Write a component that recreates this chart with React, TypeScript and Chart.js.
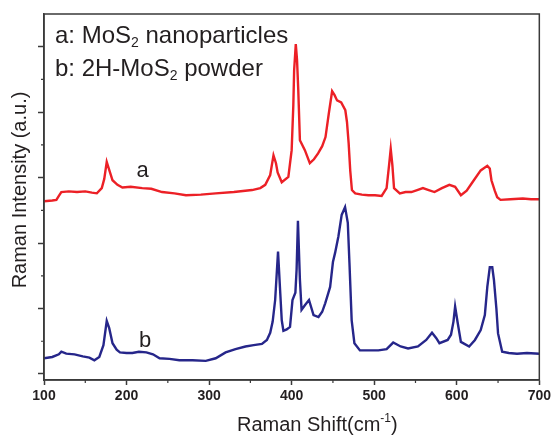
import React, { useEffect, useRef } from "react";
import { Chart, registerables } from "chart.js";

Chart.register(...registerables);

// Spectrum a: MoS2 nanoparticles (Raman shift, cm^-1)
const waveA = [100, 110, 115, 118, 121, 130, 140, 150, 158, 164, 170, 173, 176, 179, 183, 189, 195, 205, 219, 230, 243, 258, 272, 290, 308, 330, 352, 362, 368, 374, 378, 381, 383, 388, 396, 400, 402, 403, 405, 406.5, 408, 410, 416, 422, 427, 432, 437, 441, 445, 449, 452, 455, 460, 465, 467, 469, 471, 473, 477, 485, 493, 501, 509, 515, 518, 520, 522, 524, 531, 538, 545, 552, 559, 566, 573, 582, 591, 598, 605, 612, 619, 629, 637, 640, 642, 646, 649, 653, 665, 680, 690, 700];
const intensityA = [2.64, 2.65, 2.66, 2.72, 2.78, 2.79, 2.78, 2.79, 2.77, 2.76, 2.84, 2.98, 3.24, 3.12, 2.96, 2.89, 2.85, 2.86, 2.84, 2.83, 2.78, 2.76, 2.73, 2.74, 2.76, 2.78, 2.81, 2.84, 2.89, 3.04, 3.34, 3.22, 3.08, 2.93, 3.01, 3.42, 4.10, 4.64, 5.04, 4.80, 4.34, 3.57, 3.42, 3.22, 3.28, 3.37, 3.48, 3.62, 3.98, 4.32, 4.26, 4.18, 4.15, 4.03, 3.85, 3.53, 3.10, 2.81, 2.76, 2.74, 2.73, 2.73, 2.72, 2.84, 3.19, 3.44, 3.19, 2.84, 2.76, 2.78, 2.78, 2.81, 2.84, 2.81, 2.78, 2.84, 2.89, 2.86, 2.73, 2.80, 2.93, 3.11, 3.18, 3.14, 2.96, 2.80, 2.70, 2.66, 2.67, 2.68, 2.67, 2.67];

// Spectrum b: 2H-MoS2 powder
const waveB = [100, 110, 118, 121, 127, 137, 147, 155, 161, 167, 172, 176, 179, 183, 188, 192, 200, 207, 215, 224, 232, 240, 252, 264, 280, 296, 308, 320, 332, 344, 354, 364, 370, 374, 377, 380, 383.5, 386, 388, 390, 394, 398, 401, 404.5, 406, 407.6, 410, 412, 416, 421, 426.5, 432.5, 437, 440.6, 444, 446.6, 450, 452.6, 456.6, 460.6, 464.7, 468, 470, 472.7, 476, 482.7, 495, 505, 515, 523, 532, 541, 553, 563, 570, 575, 579, 589, 593, 596, 598, 601, 605, 615, 622, 629, 634, 637, 640, 643, 645, 648, 650, 655, 663, 673, 685, 700];
const intensityB = [0.24, 0.26, 0.30, 0.34, 0.31, 0.30, 0.27, 0.25, 0.21, 0.26, 0.44, 0.81, 0.70, 0.47, 0.37, 0.33, 0.32, 0.32, 0.34, 0.33, 0.30, 0.24, 0.23, 0.21, 0.21, 0.20, 0.24, 0.33, 0.38, 0.42, 0.44, 0.46, 0.52, 0.63, 0.80, 1.13, 1.87, 1.28, 0.82, 0.66, 0.68, 0.72, 1.13, 1.24, 1.60, 2.34, 1.44, 0.98, 1.05, 1.13, 0.90, 0.87, 0.95, 1.08, 1.22, 1.33, 1.71, 1.85, 2.10, 2.43, 2.55, 2.31, 1.70, 0.82, 0.47, 0.36, 0.36, 0.36, 0.38, 0.48, 0.42, 0.39, 0.42, 0.52, 0.63, 0.55, 0.47, 0.52, 0.60, 0.80, 1.03, 0.79, 0.49, 0.42, 0.52, 0.67, 0.90, 1.33, 1.63, 1.63, 1.44, 1.00, 0.62, 0.34, 0.32, 0.31, 0.32, 0.31];

const xTicks = [100, 200, 300, 400, 500, 600, 700];
const xMinorTicks = [150, 250, 350, 450, 550, 650];
const yTicks = [0, 1, 2, 3, 4, 5];
const yMinorTicks = [0.5, 1.5, 2.5, 3.5, 4.5];

const FONT = '"Liberation Sans", Arial, Helvetica, sans-serif';
const TEXT = "#231f20";
const AXIS = "#3a3a3a";

type Part = { t: string; size: number; dy: number };

function drawRich(ctx: CanvasRenderingContext2D, parts: Part[], x: number, y: number) {
  let cx = x;
  for (const p of parts) {
    ctx.font = `${p.size}px ${FONT}`;
    ctx.fillText(p.t, cx, y + p.dy);
    cx += ctx.measureText(p.t).width;
  }
}

const decorPlugin = {
  id: "decor",
  afterDraw(chart: any) {
    const { ctx, chartArea, scales } = chart;
    const xs = scales.x;
    const ys = scales.y;
    ctx.save();
    // frame
    ctx.strokeStyle = AXIS;
    ctx.lineWidth = 1.5;
    ctx.strokeRect(chartArea.left, chartArea.top, chartArea.right - chartArea.left, chartArea.bottom - chartArea.top);
    // minor ticks
    ctx.lineWidth = 1.2;
    ctx.beginPath();
    for (const v of xMinorTicks) {
      const px = xs.getPixelForValue(v);
      ctx.moveTo(px, chartArea.bottom);
      ctx.lineTo(px, chartArea.bottom + 3);
    }
    for (const v of yMinorTicks) {
      const py = ys.getPixelForValue(v);
      ctx.moveTo(chartArea.left, py);
      ctx.lineTo(chartArea.left - 3, py);
    }
    ctx.stroke();

    ctx.fillStyle = TEXT;
    ctx.textBaseline = "alphabetic";
    ctx.textAlign = "left";
    // legend text
    drawRich(ctx, [
      { t: "a: MoS", size: 24, dy: 0 },
      { t: "2", size: 14, dy: 4 },
      { t: " nanoparticles", size: 24, dy: 0 },
    ], 55, 43);
    drawRich(ctx, [
      { t: "b: 2H-MoS", size: 24, dy: 0 },
      { t: "2", size: 14, dy: 4 },
      { t: " powder", size: 24, dy: 0 },
    ], 55, 76);
    // curve labels
    ctx.font = `22px ${FONT}`;
    ctx.fillText("a", xs.getPixelForValue(212), 177);
    ctx.fillText("b", xs.getPixelForValue(215), 347);

    // x title
    drawRich(ctx, [
      { t: "Raman Shift(cm", size: 20, dy: 0 },
      { t: "-1", size: 12, dy: -9 },
      { t: ")", size: 20, dy: 0 },
    ], 237, 431);

    // y title
    ctx.save();
    ctx.translate(20, 190);
    ctx.rotate(-Math.PI / 2);
    ctx.textAlign = "center";
    ctx.textBaseline = "middle";
    ctx.font = `20px ${FONT}`;
    ctx.fillText("Raman Intensity (a.u.)", 0, 0);
    ctx.restore();

    ctx.restore();
  },
};

export default function App() {
  const ref = useRef<HTMLCanvasElement | null>(null);

  useEffect(() => {
    if (!ref.current) return;
    const chart = new Chart(ref.current, {
      type: "line",
      data: {
        datasets: [
          {
            label: "a",
            data: waveA.map((x, i) => ({ x, y: intensityA[i] })),
            borderColor: "rgb(236,32,38)",
            borderWidth: 2.4,
            pointRadius: 0,
            tension: 0,
            fill: false,
          },
          {
            label: "b",
            data: waveB.map((x, i) => ({ x, y: intensityB[i] })),
            borderColor: "rgb(38,38,138)",
            borderWidth: 2.4,
            pointRadius: 0,
            tension: 0,
            fill: false,
          },
        ],
      },
      options: {
        responsive: false,
        animation: false,
        devicePixelRatio: 1,
        layout: { padding: { left: 0, top: 14, right: 12, bottom: 0 } },
        plugins: {
          legend: { display: false },
          tooltip: { enabled: false },
        },
        scales: {
          x: {
            type: "linear",
            min: 100,
            max: 700,
            afterBuildTicks: (s: any) => {
              s.ticks = xTicks.map((v) => ({ value: v }));
            },
            afterFit: (s: any) => {
              s.height = 55;
            },
            grid: {
              drawOnChartArea: false,
              drawTicks: true,
              tickLength: 5,
              tickWidth: 1.5,
              tickColor: AXIS,
            },
            border: { display: true, color: AXIS, width: 1.5 },
            ticks: {
              padding: 3,
              color: TEXT,
              maxRotation: 0,
              font: { family: FONT, size: 14, weight: "bold" },
            },
          },
          y: {
            type: "linear",
            min: -0.092,
            max: 5.5,
            afterBuildTicks: (s: any) => {
              s.ticks = yTicks.map((v) => ({ value: v }));
            },
            afterFit: (s: any) => {
              s.width = 44;
            },
            grid: {
              drawOnChartArea: false,
              drawTicks: true,
              tickLength: 6,
              tickWidth: 1.5,
              tickColor: AXIS,
            },
            border: { display: true, color: AXIS, width: 1.5 },
            ticks: {
              display: true,
              callback: () => "",
            },
          },
        },
      },
      plugins: [decorPlugin],
    });
    return () => chart.destroy();
  }, []);

  return (
    <div style={{ position: "absolute", left: 0, top: 0, width: 554, height: 435, background: "#fff" }}>
      <canvas ref={ref} width={554} height={435} style={{ width: 554, height: 435 }} />
    </div>
  );
}
